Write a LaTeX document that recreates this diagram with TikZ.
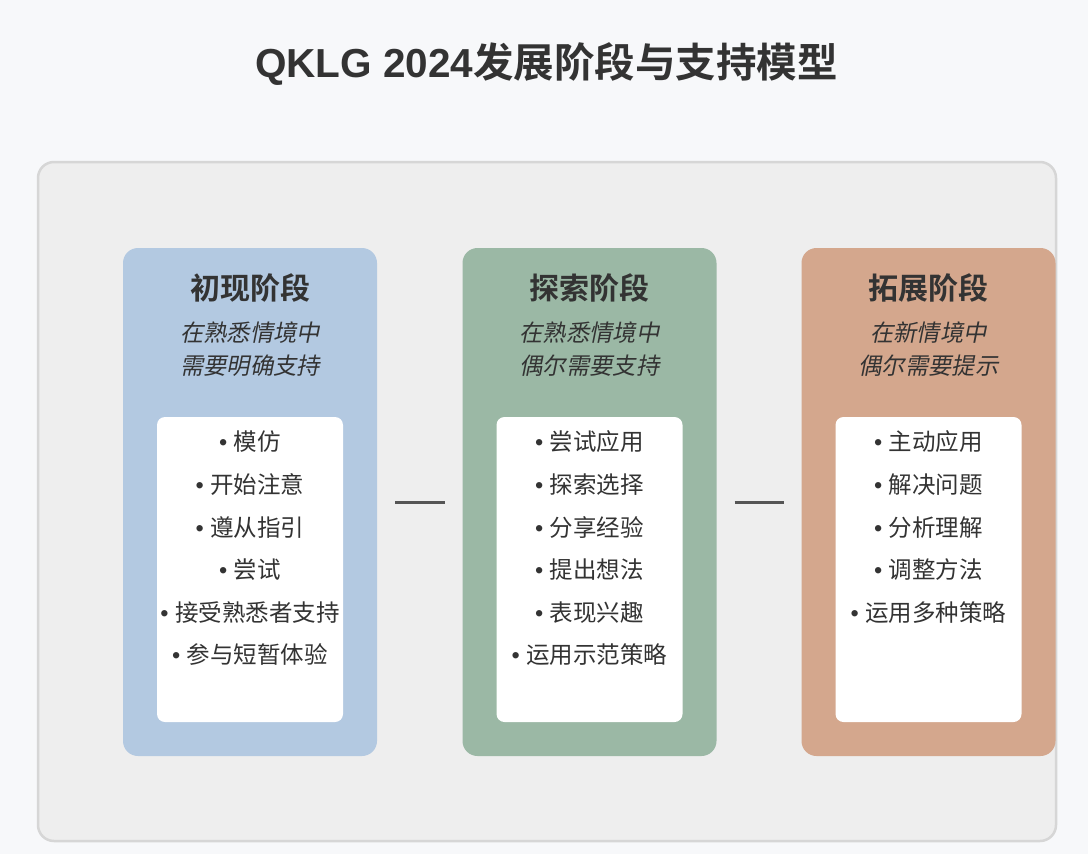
\documentclass[tikz,border=0pt]{standalone}
\usepackage{fontspec}
\setmainfont{Liberation Sans}
\newfontfamily\cjk{Noto Sans CJK SC}[BoldFont={Noto Sans CJK SC Bold}]
\newfontfamily\cjkit{Noto Sans CJK SC}[FakeSlant=0.2]
\definecolor{pagebg}{HTML}{F7F8FA}
\definecolor{panelbg}{HTML}{EEEEEE}
\definecolor{panelline}{HTML}{D6D6D6}
\definecolor{txt}{HTML}{333333}
\definecolor{cblue}{HTML}{B3C9E1}
\definecolor{cgreen}{HTML}{9BB8A5}
\definecolor{corange}{HTML}{D4A78D}
\definecolor{conn}{HTML}{555555}
\begin{document}
\begin{tikzpicture}[x=1pt,y=-1pt,
  card/.style={rectangle, rounded corners=15pt, minimum width=254pt, minimum height=508pt, inner sep=0pt, draw=none},
  listbox/.style={rectangle, rounded corners=8pt, fill=white, minimum width=186pt, minimum height=305pt, inner sep=0pt},
  cardtitle/.style={text=txt, inner sep=0pt, font=\cjk\bfseries\fontsize{30}{35}\selectfont},
  cardsub/.style={text=txt, inner sep=0pt, font=\cjkit\fontsize{23.3}{28}\selectfont},
  item/.style={text=txt, inner sep=0pt, font=\fontsize{23.5}{28}\selectfont},
  connector/.style={draw=conn, line width=3pt, shorten >=17pt, shorten <=18pt}
]
\useasboundingbox (0,0) rectangle (1088,854);
\fill[pagebg] (0,0) rectangle (1088,854);
% title
\node[text=txt, inner sep=0pt, font=\bfseries\fontsize{40.5}{48}\selectfont] (title) at (546.5,64) {QKLG 2024{\cjk\bfseries 发展阶段与支持模型}};
% panel
\draw[panelline, fill=panelbg, line width=2.5pt, rounded corners=16pt] (38,162) rectangle (1056,841);
\node (panel) at (547,501) {};
% cards
\node[card, fill=cblue] (card1) at (250,502) {};
\node[card, fill=cgreen] (card2) at (589.5,502) {};
\node[card, fill=corange] (card3) at (928.5,502) {};
\node[listbox] (list1) at (250,569.5) {};
\node[listbox] (list2) at (589.5,569.5) {};
\node[listbox] (list3) at (928.5,569.5) {};
% connectors
\draw[connector] (card1.east) -- (card2.west);
\draw[connector] (card2.east) -- (card3.west);
% card 1
\node[cardtitle] (t1) at (250,288) {初现阶段};
\node[cardsub] (s1a) at (250,333) {在熟悉情境中};
\node[cardsub] (s1b) at (250,366) {需要明确支持};
\node[item] (i1a) at (250,442) {• {\cjk 模仿}};
\node[item] (i1b) at (250,484.6) {• {\cjk 开始注意}};
\node[item] (i1c) at (250,527.2) {• {\cjk 遵从指引}};
\node[item] (i1d) at (250,569.8) {• {\cjk 尝试}};
\node[item] (i1e) at (250,612.4) {• {\cjk 接受熟悉者支持}};
\node[item] (i1f) at (250,655) {• {\cjk 参与短暂体验}};
% card 2
\node[cardtitle] (t2) at (589.5,288) {探索阶段};
\node[cardsub] (s2a) at (589.5,333) {在熟悉情境中};
\node[cardsub] (s2b) at (589.5,366) {偶尔需要支持};
\node[item] (i2a) at (589.5,442) {• {\cjk 尝试应用}};
\node[item] (i2b) at (589.5,484.6) {• {\cjk 探索选择}};
\node[item] (i2c) at (589.5,527.2) {• {\cjk 分享经验}};
\node[item] (i2d) at (589.5,569.8) {• {\cjk 提出想法}};
\node[item] (i2e) at (589.5,612.4) {• {\cjk 表现兴趣}};
\node[item] (i2f) at (589.5,655) {• {\cjk 运用示范策略}};
% card 3
\node[cardtitle] (t3) at (928.5,288) {拓展阶段};
\node[cardsub] (s3a) at (928.5,333) {在新情境中};
\node[cardsub] (s3b) at (928.5,366) {偶尔需要提示};
\node[item] (i3a) at (928.5,442) {• {\cjk 主动应用}};
\node[item] (i3b) at (928.5,484.6) {• {\cjk 解决问题}};
\node[item] (i3c) at (928.5,527.2) {• {\cjk 分析理解}};
\node[item] (i3d) at (928.5,569.8) {• {\cjk 调整方法}};
\node[item] (i3e) at (928.5,612.4) {• {\cjk 运用多种策略}};
\end{tikzpicture}
\end{document}
